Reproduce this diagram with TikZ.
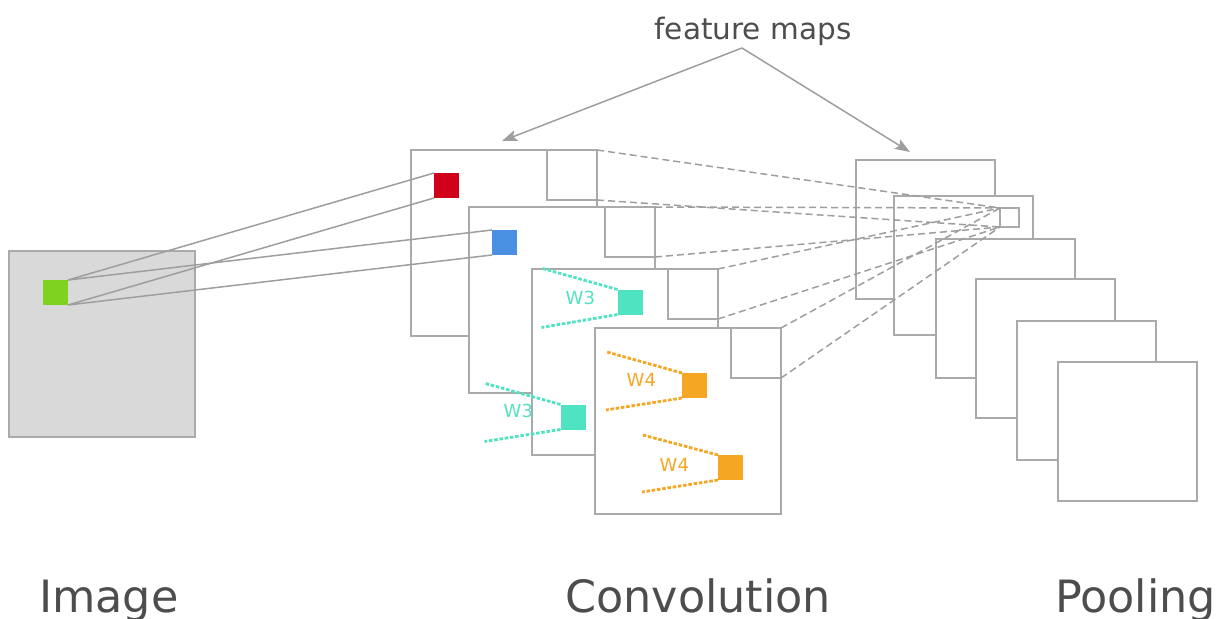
\documentclass[tikz,border=0pt]{standalone}
\usepackage{fontspec}
\setmainfont{DejaVu Sans}
\usetikzlibrary{arrows.meta,positioning}
\definecolor{cnngray}{RGB}{170,170,170}
\definecolor{cnnline}{RGB}{158,158,158}
\definecolor{cnntext}{RGB}{77,77,77}
\definecolor{cnnfill}{RGB}{217,217,217}
\definecolor{cnngreen}{RGB}{126,211,33}
\definecolor{cnnred}{RGB}{208,2,27}
\definecolor{cnnblue}{RGB}{74,144,226}
\definecolor{cnnteal}{RGB}{80,227,194}
\definecolor{cnnorange}{RGB}{245,166,35}
\begin{document}
\begin{tikzpicture}[x=1pt,y=-1pt,
  fmap/.style={draw=cnngray,line width=2pt,fill=white,minimum size=186pt,inner sep=0pt,outer sep=0pt},
  pmap/.style={fmap,minimum size=139pt},
  win/.style={draw=cnngray,line width=2pt,fill=white,minimum size=50pt,inner sep=0pt,outer sep=0pt},
  cell/.style={minimum size=25pt,inner sep=0pt,outer sep=0pt},
  link/.style={cnnline,line width=1.5pt},
  proj/.style={cnnline,line width=1.5pt,dash pattern=on 7pt off 4pt},
  filt/.style={line width=2.8pt,dash pattern=on 3.5pt off 1.8pt},
  wlab/.style={font=\fontsize{18}{20}\selectfont,anchor=base west,inner sep=0pt},
  title/.style={font=\fontsize{44.5}{50}\selectfont,text=cnntext,anchor=base west,inner sep=0pt},
  arr/.style={-{Stealth[length=15pt,width=11pt,inset=3pt]},cnnline,line width=1.5pt}]
  \useasboundingbox (0,0) rectangle (1222,618);
  % Input image
  \node[fmap,fill=cnnfill] (img) at (102,344) {};
  \node[cell,fill=cnngreen] (px) at (55.5,292.5) {};
  % Convolution maps, each with its pooling window
  \node[fmap] (c1) at (504,243) {};
  \node[win,anchor=north east] (w1) at (c1.north east) {};
  \node[cell,fill=cnnred] (k1) at (446.5,185.5) {};
  \node[fmap] (c2) at (562,300) {};
  \node[win,anchor=north east] (w2) at (c2.north east) {};
  \node[cell,fill=cnnblue] (k2) at (504.5,242.5) {};
  \node[fmap] (c3) at (625,362) {};
  \node[win,anchor=north east] (w3) at (c3.north east) {};
  \node[cell,fill=cnnteal] (t1) at (630,302) {};
  \node[cell,fill=cnnteal] (t2) at (573,417) {};
  \node[fmap] (c4) at (688,421) {};
  \node[win,anchor=north east] (w4) at (c4.north east) {};
  \node[cell,fill=cnnorange] (o1) at (694.5,385.5) {};
  \node[cell,fill=cnnorange] (o2) at (730.5,467.5) {};
  % Receptive field of the input pixel
  \draw[link] (px.north east)--(k1.north west); \draw[link] (px.south east)--(k1.south west);
  \draw[link] (px.north east)--(k2.north west); \draw[link] (px.south east)--(k2.south west);
  % Shared weights
  \draw[filt,cnnteal] (t1.north west)--++(-75,-21); \draw[filt,cnnteal] (t1.south west)--++(-76,13);
  \draw[filt,cnnteal] (t2.north west)--++(-75,-21); \draw[filt,cnnteal] (t2.south west)--++(-76,12);
  \draw[filt,cnnorange] (o1.north west)--++(-75,-21); \draw[filt,cnnorange] (o1.south west)--++(-76,12);
  \draw[filt,cnnorange] (o2.north west)--++(-75,-20); \draw[filt,cnnorange] (o2.south west)--++(-76,12);
  \node[wlab,text=cnnteal] (l1) at (565.5,304) {W3};
  \node[wlab,text=cnnteal] (l2) at (503.5,417) {W3};
  \node[wlab,text=cnnorange] (l3) at (626.5,386) {W4};
  \node[wlab,text=cnnorange] (l4) at (659.5,471) {W4};
  % Pooling maps
  \node[pmap] (p1) at (925.5,229) {};
  \node[pmap] (p2) at (963.5,265) {};
  \node[draw=cnngray,line width=2pt,minimum size=19pt,inner sep=0pt,outer sep=0pt] (pw) at (1009.5,217.5) {};
  \node[pmap] (p3) at (1005.5,308) {};
  \node[pmap] (p4) at (1045.5,348) {};
  \node[pmap] (p5) at (1086.5,390) {};
  \node[pmap] (p6) at (1127.5,431) {};
  % Windows pooled into one value
  \draw[proj] (w1.north east)--(pw.north west); \draw[proj] (w1.south east)--(pw.south west);
  \draw[proj] (w2.north east)--(pw.north west); \draw[proj] (w2.south east)--(pw.south west);
  \draw[proj] (w3.north east)--(pw.north west); \draw[proj] (w3.south east)--(pw.south west);
  \draw[proj] (w4.north east)--(pw.north west); \draw[proj] (w4.south east)--(pw.south west);
  % Feature maps callout
  \node[font=\fontsize{29.5}{34}\selectfont,text=cnntext,anchor=base,inner sep=0pt] (fm) at (753,40) {feature maps};
  \coordinate (fmsrc) at (742,48);
  \coordinate (fmconv) at (502,141);
  \coordinate (fmpool) at (910,152);
  \draw[arr] (fmsrc)--(fmconv); \draw[arr] (fmsrc)--(fmpool);
  % Stage titles
  \node[title] (timg) at (39,612) {Image};
  \node[title] (tconv) at (565,612) {Convolution};
  \node[title] (tpool) at (1055,612) {Pooling};
\end{tikzpicture}
\end{document}
